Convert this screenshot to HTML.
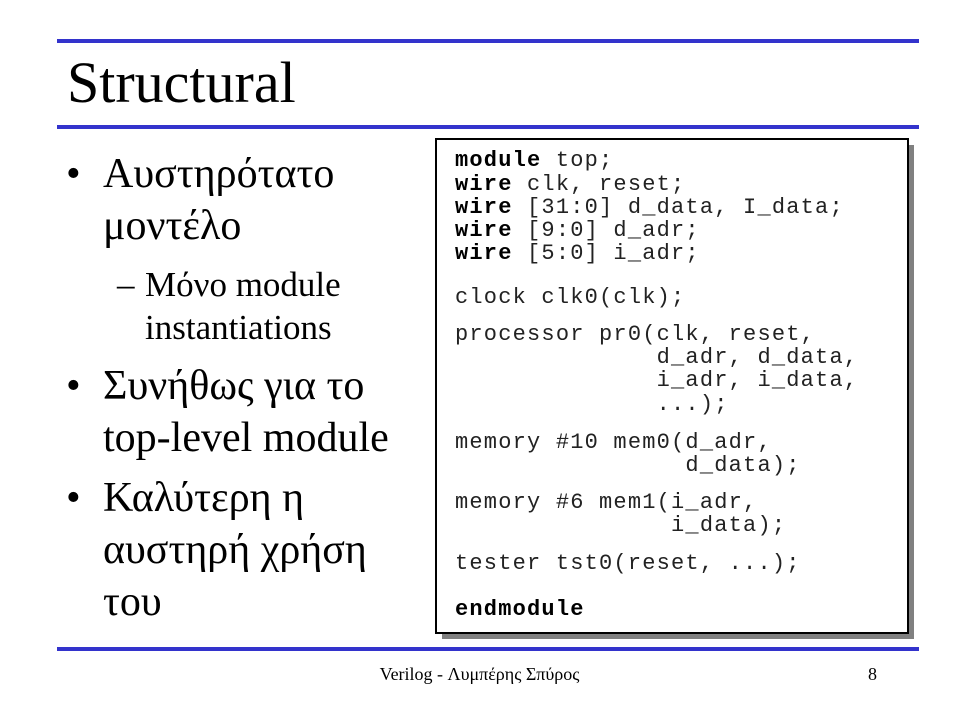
<!DOCTYPE html>
<html><head><meta charset="utf-8"><style>
body{margin:0;width:959px;height:719px;background:#fff;position:relative;overflow:hidden}
.l{position:absolute;left:57px;width:862px;height:4px;background:#3333cc}
.s{position:absolute;font-family:"Liberation Serif",serif;color:#000;white-space:nowrap;line-height:1em}
.c{position:absolute;left:455px;font-family:"Liberation Mono",monospace;font-size:22px;letter-spacing:1.2px;line-height:24px;white-space:pre;color:#222}
b{font-weight:bold;color:#000}
</style></head><body>
<div class="l" style="top:39px"></div>
<div class="l" style="top:125px"></div>
<div class="l" style="top:647px"></div>
<div class="s" style="left:67px;top:54px;font-size:58px">Structural</div>

<div class="s" style="left:66px;top:153px;font-size:42px">•</div>
<div class="s" style="left:103px;top:153px;font-size:42px">Αυστηρότατο</div>
<div class="s" style="left:103px;top:205px;font-size:42px">μοντέλο</div>
<div class="s" style="left:117px;top:267px;font-size:35px">–</div>
<div class="s" style="left:145px;top:267px;font-size:35px">Μόνο module</div>
<div class="s" style="left:145px;top:310px;font-size:35px">instantiations</div>
<div class="s" style="left:66px;top:365px;font-size:42px">•</div>
<div class="s" style="left:103px;top:365px;font-size:42px">Συνήθως για το</div>
<div class="s" style="left:103px;top:417px;font-size:42px">top-level module</div>
<div class="s" style="left:66px;top:477px;font-size:42px">•</div>
<div class="s" style="left:103px;top:477px;font-size:42px">Καλύτερη η</div>
<div class="s" style="left:103px;top:529px;font-size:42px">αυστηρή χρήση</div>
<div class="s" style="left:103px;top:581px;font-size:42px">του</div>

<div style="position:absolute;left:442px;top:145px;width:472px;height:494px;background:#808080"></div>
<div style="position:absolute;left:435px;top:138px;width:470px;height:492px;background:#fff;border:2px solid #000"></div>

<div class="c" style="top:149px"><b>module</b> top;</div>
<div class="c" style="top:173px"><b>wire</b> clk, reset;</div>
<div class="c" style="top:196px"><b>wire</b> [31:0] d_data, I_data;</div>
<div class="c" style="top:219px"><b>wire</b> [9:0] d_adr;</div>
<div class="c" style="top:242px"><b>wire</b> [5:0] i_adr;</div>
<div class="c" style="top:286px">clock clk0(clk);</div>
<div class="c" style="top:323px">processor pr0(clk, reset,</div>
<div class="c" style="top:346px">              d_adr, d_data,</div>
<div class="c" style="top:369px">              i_adr, i_data,</div>
<div class="c" style="top:393px">              ...);</div>
<div class="c" style="top:431px">memory #10 mem0(d_adr,</div>
<div class="c" style="top:454px">                d_data);</div>
<div class="c" style="top:491px">memory #6 mem1(i_adr,</div>
<div class="c" style="top:514px">               i_data);</div>
<div class="c" style="top:552px">tester tst0(reset, ...);</div>
<div class="c" style="top:598px"><b>endmodule</b></div>

<div class="s" style="left:0;width:959px;text-align:center;top:665px;font-size:18px">Verilog - Λυμπέρης Σπύρος</div>
<div class="s" style="left:868px;top:665px;font-size:18px">8</div>
</body></html>
